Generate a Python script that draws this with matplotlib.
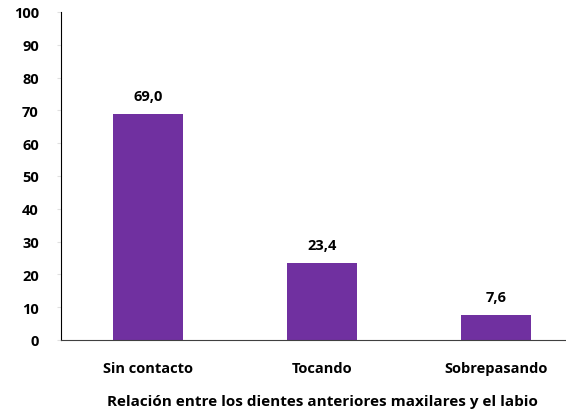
import matplotlib.pyplot as plt

categories = ['Sin contacto', 'Tocando', 'Sobrepasando']
values = [69.0, 23.4, 7.6]
labels = ['69,0', '23,4', '7,6']

plt.rcParams['font.family'] = ['Open Sans', 'DejaVu Sans']
plt.rcParams['font.weight'] = 'bold'

fig = plt.figure(figsize=(5.66, 4.10), dpi=100)
# axes runs past the right edge of the figure, like the original
ax = fig.add_axes([61 / 566, (410 - 341) / 410, 522 / 566, 328 / 410])

x = range(len(categories))
ax.bar(x, values, width=0.4, color='#7030A0', zorder=2)

for xi, v, lab in zip(x, values, labels):
    ax.annotate(lab, (xi, v), xytext=(0, 8), textcoords='offset points',
                ha='center', va='bottom', fontsize=10.5, fontweight='bold')

ax.set_xlim(-0.5, 2.5)
ax.set_ylim(0, 100)
ax.set_yticks(range(0, 101, 10))
ax.set_xticks(list(x))
ax.set_xticklabels(categories, fontsize=10.5, fontweight='bold')
ax.tick_params(axis='x', length=0, pad=15)
ax.tick_params(axis='y', length=3, color='#e0e0e0', labelsize=10.5, pad=13)

for s in ['top', 'right']:
    ax.spines[s].set_visible(False)
ax.spines['left'].set_color('black')
ax.spines['bottom'].set_color('#404040')
ax.spines['bottom'].set_zorder(3)

ax.set_xlabel('Relación entre los dientes anteriores maxilares y el labio',
              fontsize=11, fontweight='bold', labelpad=14)

fig.savefig('out.png', dpi=100)
